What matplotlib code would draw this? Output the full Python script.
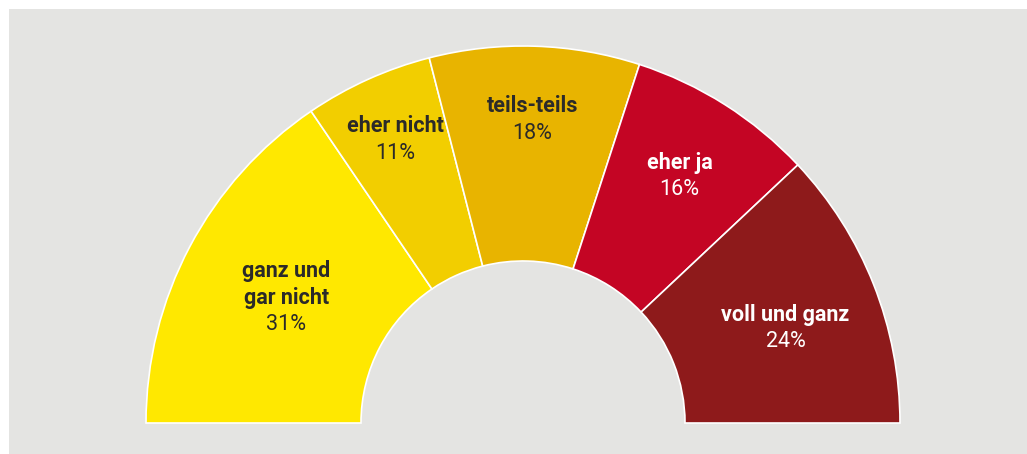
#!/usr/bin/env python3
"""Half-donut chart: Zustimmung in fünf Stufen."""

import math

import matplotlib

matplotlib.use("Agg")
import matplotlib.pyplot as plt
from matplotlib.patches import Rectangle, Wedge

categories = ["ganz und\ngar nicht", "eher nicht", "teils-teils", "eher ja", "voll und ganz"]
shares = [31, 11, 18, 16, 24]

colors = ["#ffe800", "#f2ce00", "#e8b400", "#c40524", "#8e1a1b"]
text_colors = ["#2b2a29", "#2b2a29", "#2b2a29", "#ffffff", "#ffffff"]
# label placement: radius (fraction of outer radius) and small angle tweak in degrees
label_radius = [0.71, 0.825, 0.805, 0.775, 0.74]
label_shift = [0.0, 0.0, 0.0, 0.0, -1.8]

W, H = 1027, 454
CX, CY, R_OUT, R_IN = 523, 423, 377, 162
LINE = 27  # px between text lines
FONT = ["Liberation Sans Narrow", "Roboto", "DejaVu Sans"]


def main():
    fig = plt.figure(figsize=(W / 100, H / 100), dpi=100)
    fig.patch.set_facecolor("white")
    fig.patches.append(
        Rectangle((9 / W, 0), (W - 9) / W, (H - 9) / H, transform=fig.transFigure,
                  facecolor="#e4e4e2", edgecolor="none", zorder=-5)
    )

    ax = fig.add_axes([0, 0, 1, 1])
    ax.set_facecolor("none")
    ax.set_xlim(-CX / R_OUT, (W - CX) / R_OUT)
    ax.set_ylim(-(H - CY) / R_OUT, CY / R_OUT)
    ax.axis("off")

    total = sum(shares)
    width = 1 - R_IN / R_OUT
    start = 180.0
    for i, (cat, val) in enumerate(zip(categories, shares)):
        span = 180.0 * val / total
        theta1, theta2 = start - span, start
        ax.add_patch(Wedge((0, 0), 1.0, theta1, theta2, width=width,
                           facecolor=colors[i], edgecolor="white", linewidth=1.2))
        mid = math.radians((theta1 + theta2) / 2 + label_shift[i])
        r = label_radius[i]
        xy = (r * math.cos(mid), r * math.sin(mid))
        lines = cat.split("\n") + [f"{val}%"]
        k = len(lines)
        for j, line in enumerate(lines):
            bold = j < k - 1
            ax.annotate(line, xy, xytext=(0, (k - 1) / 2 * LINE - j * LINE),
                        textcoords="offset pixels", ha="center", va="center",
                        fontsize=15.5, fontweight="bold" if bold else "normal",
                        color=text_colors[i], family=FONT)
        start = theta1

    fig.savefig("out.png", dpi=100)


if __name__ == "__main__":
    main()
